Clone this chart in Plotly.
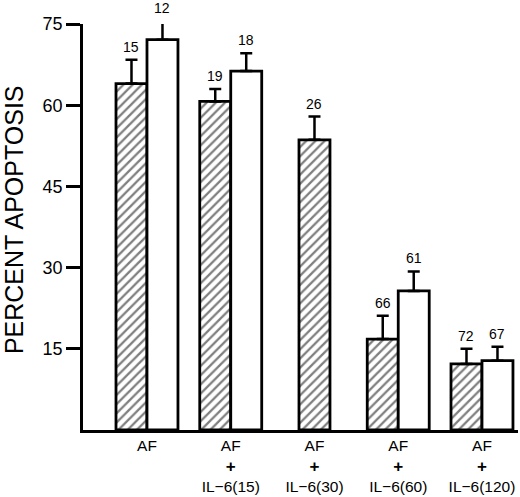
import plotly.graph_objects as go

PLUS = "<b><span style='font-size:17px'>+</span></b>"
categories = ["AF", "AF<br>" + PLUS + "<br>IL−6(15)",
              "AF<br>" + PLUS + "<br>IL−6(30)",
              "AF<br>" + PLUS + "<br>IL−6(60)",
              "AF<br>" + PLUS + "<br>IL−6(120)"]
hatched_vals = [64.0, 60.7, 53.6, 16.8, 12.2]
hatched_err = [4.4, 2.3, 4.3, 4.3, 2.8]
hatched_n = ["15", "19", "26", "66", "72"]
open_vals = [72.1, 66.3, None, 25.7, 12.8]
open_err = [3.4, 3.3, None, 3.6, 2.6]
open_n = ["12", "18", None, "61", "67"]
y_ticks = [15, 30, 45, 60, 75]
Y_MAX = 75

BW = 0.37
idx = list(range(len(categories)))

h_off = [(-BW / 2 if o is None else -BW) for o in open_vals]

fig = go.Figure()
fig.add_trace(go.Bar(
    x=idx, y=hatched_vals, width=[BW] * len(idx), offset=h_off, cliponaxis=False,
    marker=dict(color="white", line=dict(color="black", width=2.8),
                pattern=dict(shape="/", fgcolor="black", bgcolor="white", size=6.5, solidity=0.35)),
    error_y=dict(type="data", array=hatched_err, arrayminus=[0] * len(idx), symmetric=False,
                 color="black", thickness=2.5, width=6),
    showlegend=False))
ox = [i for i, v in zip(idx, open_vals) if v is not None]
fig.add_trace(go.Bar(
    x=ox, y=[v for v in open_vals if v is not None], width=[BW] * len(ox), offset=[0.0] * len(ox),
    cliponaxis=False,
    marker=dict(color="white", line=dict(color="black", width=2.8)),
    error_y=dict(type="data", array=[e for e in open_err if e is not None], arrayminus=[0] * len(ox),
                 symmetric=False, color="black", thickness=2.5, width=6),
    showlegend=False))

for i in idx:
    cx = i + h_off[i] + BW / 2
    fig.add_annotation(x=cx, xref="x", y=(hatched_vals[i] + hatched_err[i]) / Y_MAX, yref="paper",
                       text=hatched_n[i], showarrow=False,
                       yanchor="bottom", yshift=3, font=dict(size=14, color="black"))
    if open_vals[i] is not None:
        fig.add_annotation(x=i + BW / 2, xref="x", y=(open_vals[i] + open_err[i]) / Y_MAX, yref="paper",
                           text=open_n[i], showarrow=False,
                           yanchor="bottom", yshift=3, font=dict(size=14, color="black"))

fig.add_annotation(x=0, xref="paper", y=0.517, yref="paper", text="PERCENT APOPTOSIS",
                   textangle=-90, showarrow=False, xanchor="center", yanchor="middle",
                   xshift=-69, font=dict(size=25, color="black"))

fig.update_layout(
    width=520, height=497, margin=dict(l=83, r=2, t=24, b=67, autoexpand=False),
    plot_bgcolor="white", paper_bgcolor="white", barmode="overlay",
    font=dict(family="Liberation Sans, Arial, sans-serif", color="black"),
    xaxis=dict(range=[-0.764, 4.43], tickvals=idx, ticktext=categories, showline=True, linecolor="black",
               linewidth=2.5, ticks="", tickfont=dict(size=15.5), showgrid=False, zeroline=False,
               automargin=False),
    yaxis=dict(range=[0, Y_MAX], tickvals=y_ticks, showline=True, linecolor="black", linewidth=2.5,
               ticks="outside", ticklen=14, tickwidth=2.5, tickcolor="black", tickfont=dict(size=18),
               showgrid=False, zeroline=False, automargin=False),
)
# remove the browser's default 8px body margin so the figure fills the window exactly
fig.write_html("out.html", config={"displayModeBar": False},
               post_script="document.body.style.margin='0';")
